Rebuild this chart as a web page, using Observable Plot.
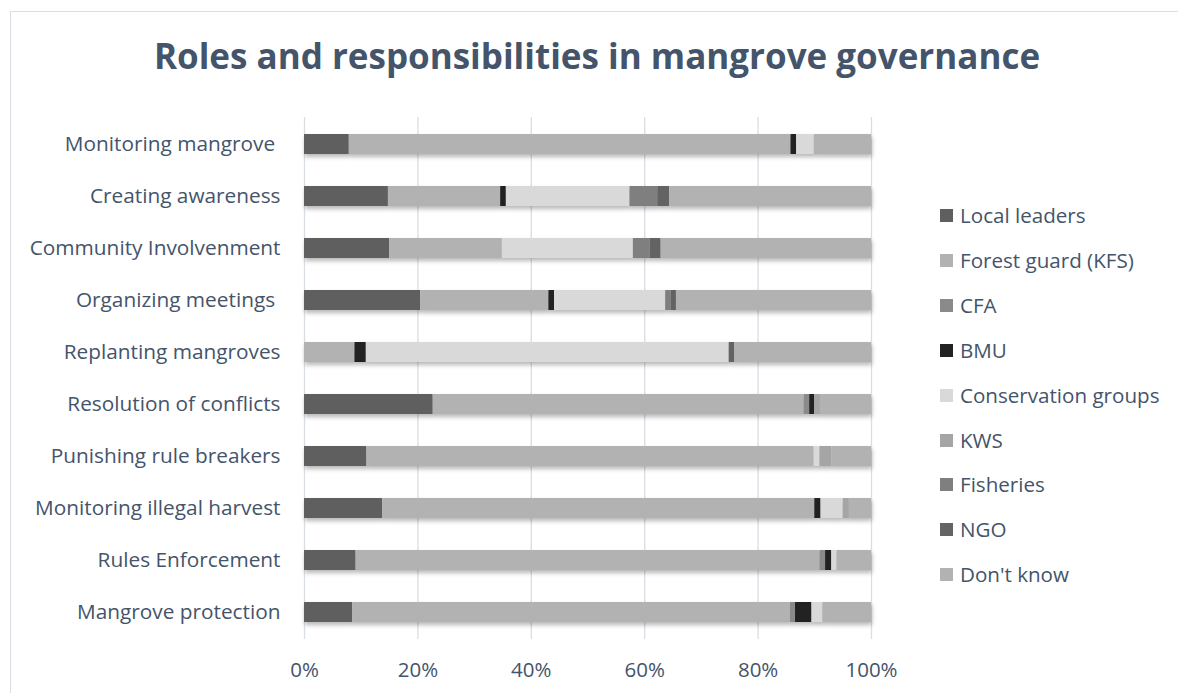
<!DOCTYPE html>
<html>
<head>
<meta charset="utf-8">
<script src="https://cdn.jsdelivr.net/npm/d3@7"></script>
<script src="https://cdn.jsdelivr.net/npm/@observablehq/plot@0.6"></script>
<style>
  html, body { margin: 0; padding: 0; background: #fff; }
  #wrap { position: relative; width: 1178px; height: 693px; overflow: hidden; font-family: "Open Sans", sans-serif; color: #44546a; }
  #frame { position: absolute; left: 10px; top: 11px; width: 1200px; height: 720px; border-left: 1.5px solid #d9dde4; border-top: 1.5px solid #d9dde4; }
  #title { position: absolute; left: 0; width: 1194px; top: 32px; text-align: center; font-size: 35px; font-weight: 700; line-height: 48px; }
  #chart { position: absolute; left: 0; top: 100px; }
  #legend { position: absolute; left: 940px; top: 0; }
  .item { position: absolute; left: 0; white-space: nowrap; font-size: 20.6px; line-height: 26px; height: 26px; }
  .sw { position: absolute; left: 0; top: 7px; width: 13px; height: 13px; }
  .lab { position: absolute; left: 20px; top: 0; }
</style>
</head>
<body>
<div id="wrap">
  <div id="frame"></div>
  <div id="title">Roles and responsibilities in mangrove governance</div>
  <div id="chart"></div>
  <div id="legend"></div>
</div>
<script>
const roles = ["Monitoring mangrove ", "Creating awareness", "Community Involvenment", "Organizing meetings ", "Replanting mangroves", "Resolution of conflicts", "Punishing rule breakers", "Monitoring illegal harvest", "Rules Enforcement", "Mangrove protection"];
const series = ["Local leaders", "Forest guard (KFS)", "CFA", "BMU", "Conservation groups", "KWS", "Fisheries", "NGO", "Don't know"];
const colors = ["#5f5f5f", "#b2b2b2", "#8a8a8a", "#222222", "#d9d9d9", "#a5a5a5", "#7f7f7f", "#646464", "#b2b2b2"];

const localLeaders = [7.9, 14.8, 15.0, 20.5, 0, 22.7, 11.0, 13.8, 9.1, 8.5];
const forestGuard  = [77.9, 19.8, 19.9, 22.6, 8.9, 65.4, 78.9, 76.2, 81.8, 77.2];
const cfa          = [0, 0, 0, 0, 0, 1.0, 0, 0, 1.0, 0.9];
const bmu          = [1.0, 1.0, 0, 1.0, 2.0, 0.9, 0, 1.1, 1.1, 2.9];
const conservation = [3.1, 21.8, 23.1, 19.6, 64.0, 0, 1.0, 3.9, 0.9, 1.9];
const kws          = [0, 0, 0, 0, 0, 1.0, 2.1, 1.1, 0, 0];
const fisheries    = [0, 4.9, 3.0, 1.0, 0, 0, 0, 0, 0, 0];
const ngo          = [0, 2.1, 1.9, 0.9, 1.0, 0, 0, 0, 0, 0];
const dontKnow     = [10.1, 35.6, 37.1, 34.4, 24.1, 9.0, 7.0, 3.9, 6.1, 8.6];

const xTicks = [0, 20, 40, 60, 80, 100];

const seriesValues = [localLeaders, forestGuard, cfa, bmu, conservation, kws, fisheries, ngo, dontKnow];
const data = roles.flatMap((r, i) => series.map((s, j) => ({role: r, actor: s, value: seriesValues[j][i]}))).filter(d => d.value > 0);

const chart = Plot.plot({
  width: 1178,
  height: 593,
  marginLeft: 304,
  marginRight: 307,
  marginTop: 17,
  marginBottom: 54,
  style: {fontFamily: "Open Sans, sans-serif", fontSize: "20px", color: "#44546a", background: "transparent", overflow: "visible"},
  x: {domain: [0, 100], label: null},
  y: {domain: roles, paddingInner: 0.62, paddingOuter: 0.31, label: null},
  color: {domain: series, range: colors},
  marks: [
    Plot.gridX(xTicks, {stroke: "#d9dde4", strokeOpacity: 1, strokeWidth: 1.3}),
    Plot.barX(data, {x: "value", y: "role", fill: "actor"}),
    Plot.axisX(xTicks, {tickSize: 0, tickPadding: 23, tickFormat: d => d + "%", fontSize: 20.5, label: null}),
    Plot.axisY({tickSize: 0, tickPadding: 24, fontSize: 20.8, label: null})
  ]
});

// soft drop shadow like the original
const ns = "http://www.w3.org/2000/svg";
const defs = document.createElementNS(ns, "defs");
defs.innerHTML = '<filter id="sh" x="-5%" y="-50%" width="110%" height="200%"><feDropShadow dx="1" dy="3" stdDeviation="2" flood-color="#000" flood-opacity="0.28"/></filter>';
chart.insertBefore(defs, chart.firstChild);
const barGroup = chart.querySelector("g[aria-label='bar']");
if (barGroup) barGroup.setAttribute("filter", "url(#sh)");

document.getElementById("chart").appendChild(chart);

const legend = document.getElementById("legend");
series.forEach((s, i) => {
  const it = document.createElement("div");
  it.className = "item";
  it.style.top = (202 + i * 44.9) + "px";
  it.innerHTML = `<span class="sw" style="background:${colors[i]}"></span><span class="lab"></span>`;
  it.querySelector(".lab").textContent = s;
  legend.appendChild(it);
});
</script>
</body>
</html>
